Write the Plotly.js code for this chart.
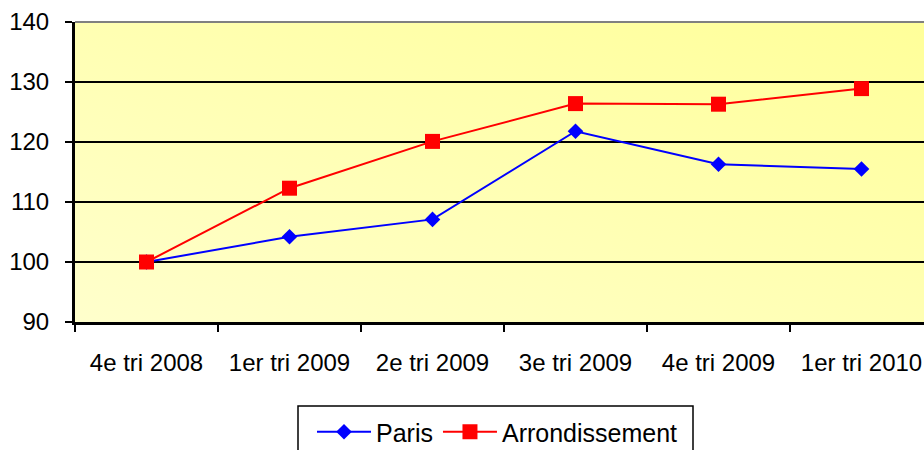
<!DOCTYPE html>
<html>
<head>
<meta charset="utf-8">
<script src="https://cdn.plot.ly/plotly-3.0.1.min.js"></script>
<style>
html, body { margin: 0; padding: 0; overflow: hidden; background: #fff; }
#chart { width: 934px; height: 450px; }
</style>
</head>
<body>
<div id="chart"></div>
<script>
const categories = ["4e tri 2008", "1er tri 2009", "2e tri 2009", "3e tri 2009", "4e tri 2009", "1er tri 2010"];
const parisValues = [100, 104.2, 107.1, 121.8, 116.3, 115.5];
const arrondissementValues = [100, 112.3, 120.1, 126.4, 126.3, 128.9];
const yTicks = [90, 100, 110, 120, 130, 140];

const FONT = "'Liberation Sans', Arial, sans-serif";

const gradSvg = '<svg xmlns="http://www.w3.org/2000/svg" width="100" height="100" preserveAspectRatio="none">' +
  '<defs><linearGradient id="g" x1="0" y1="1" x2="1" y2="0">' +
  '<stop offset="0" stop-color="#FFFFCC"/><stop offset="1" stop-color="#FFFF99"/>' +
  '</linearGradient></defs><rect width="100" height="100" fill="url(#g)"/></svg>';
const gradUrl = 'data:image/svg+xml;charset=utf-8,' + encodeURIComponent(gradSvg);

const traces = [
  {
    x: categories, y: parisValues, name: "Paris", type: "scatter", mode: "lines+markers",
    line: { color: "#0000FF", width: 2 },
    marker: { symbol: "diamond", size: 12, color: "#0000FF" }
  },
  {
    x: categories, y: arrondissementValues, name: "Arrondissement", type: "scatter", mode: "lines+markers",
    line: { color: "#FF0000", width: 2 },
    marker: { symbol: "square", size: 15, color: "#FF0000" }
  }
];

const T = 22, B = 322, L = 75, PW = 858, PH = B - T;

const layout = {
  width: 934, height: 450,
  margin: { l: L, r: 934 - L - PW, t: T, b: 450 - B, autoexpand: false },
  paper_bgcolor: "#FFFFFF",
  plot_bgcolor: "rgba(0,0,0,0)",
  font: { family: FONT, size: 24, color: "#000" },
  showlegend: true,
  images: [{
    source: gradUrl, xref: "paper", yref: "paper", x: 0, y: 1, sizex: 1, sizey: 1,
    xanchor: "left", yanchor: "top", sizing: "stretch", layer: "below"
  }],
  shapes: [
    {
      type: "line", xref: "paper", yref: "paper", x0: 0, x1: 1, y0: 1, y1: 1,
      line: { color: "#808080", width: 2 }
    },
    {
      type: "rect", xref: "paper", yref: "paper",
      x0: (298 - L) / PW, x1: (693 - L) / PW,
      y0: (B - 406) / PH, y1: (B - 470) / PH,
      line: { color: "#000", width: 1.5 }, fillcolor: "rgba(0,0,0,0)"
    }
  ],
  xaxis: {
    type: "category", range: [-0.5, 5.5], showgrid: false, zeroline: false,
    showline: true, linecolor: "#000", linewidth: 2.5,
    ticks: "outside", tickson: "boundaries", ticklen: 7, tickwidth: 1.5, tickcolor: "#000",
    ticklabelstandoff: 18,
    tickfont: { family: FONT, size: 24, color: "#000" }
  },
  yaxis: {
    range: [90, 140], tickvals: yTicks, ticktext: yTicks.map(String),
    showgrid: true, gridcolor: "#000", gridwidth: 1.8, zeroline: false,
    showline: true, linecolor: "#000", linewidth: 3,
    ticks: "outside", ticklen: 7, tickwidth: 1.5, tickcolor: "#000",
    ticklabelstandoff: 11,
    tickfont: { family: FONT, size: 24, color: "#000" }
  },
  legend: {
    orientation: "h", x: (312 - L) / PW, xanchor: "left", y: (B - 409) / PH, yanchor: "top",
    bgcolor: "rgba(0,0,0,0)", borderwidth: 0,
    itemwidth: 54,
    font: { family: FONT, size: 25, color: "#000" }
  }
};

Plotly.newPlot("chart", traces, layout, { displayModeBar: false, staticPlot: true });
</script>
</body>
</html>
